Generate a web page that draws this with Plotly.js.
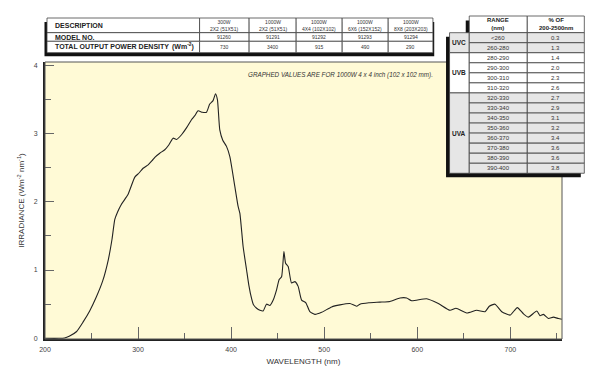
<!DOCTYPE html>
<html><head><meta charset="utf-8">
<script src="https://cdn.plot.ly/plotly-3.0.1.min.js"></script>
<style>html,body{margin:0;padding:0;background:#fff}#c{width:600px;height:382px}</style>
</head><body><div id="c"></div>
<script>
// ---- data ----
const wavelength = [200,215,221,226,234,241,248,255,262,268,272,275,278,282,289,296.5,301,305.4,310.8,315,318,323.3,328.7,333,337.6,341.3,346.7,352,357.4,361,364.5,369,373.5,377,380.6,383.2,385.3,387.8,391,395,398.6,404,407.5,409.4,412.9,416.6,419,422,424,427.4,431,434.4,438,441.6,445.2,448.8,451.6,454.2,456.7,458.5,461.3,464.9,468.5,472,475.7,480.3,484.6,490,497.2,508,516.9,527.6,534.8,538.4,548,559.9,570.6,581.4,588.6,594,610.1,622.6,635.2,641.6,653.1,663.9,672.8,677.4,683.5,690.8,699.7,707.5,714,719.4,728.4,731.9,735.5,740.9,746.2,751.6,755.3];
const irradiance = [0,0,0.005,0.03,0.10,0.24,0.40,0.60,0.84,1.15,1.45,1.74,1.85,1.96,2.10,2.36,2.42,2.49,2.54,2.60,2.65,2.71,2.76,2.83,2.93,2.91,2.98,3.08,3.20,3.26,3.33,3.31,3.31,3.43,3.48,3.58,3.49,3.05,2.90,2.81,2.66,2.22,1.93,1.83,1.34,1.00,0.78,0.58,0.49,0.44,0.41,0.40,0.50,0.48,0.56,0.71,0.86,0.90,1.27,1.10,1.05,0.81,0.83,0.76,0.56,0.52,0.39,0.35,0.38,0.46,0.49,0.51,0.47,0.50,0.52,0.53,0.54,0.59,0.59,0.55,0.58,0.51,0.41,0.44,0.37,0.41,0.39,0.47,0.50,0.39,0.34,0.45,0.36,0.31,0.40,0.33,0.35,0.29,0.31,0.29,0.28];

const descHeaders = ["300W<br>2X2 (51X51)","1000W<br>2X2 (51X51)","1000W<br>4X4 (102X102)","1000W<br>6X6 (152X152)","1000W<br>8X8 (203X203)"];
const modelNos = ["91260","91291","91292","91293","91294"];
const powerDensity = ["730","3400","915","490","290"];
const rowLabels = ["DESCRIPTION","MODEL NO.","TOTAL OUTPUT POWER DENSITY"];

const bandGroups = ["UVC","UVB","UVA"];
const bandGroupSizes = [2,4,8];
const ranges = ["<260","260-280","280-290","290-300","300-310","310-320","320-330","330-340","340-350","350-360","360-370","370-380","380-390","390-400"];
const percents = ["0.3","1.3","1.4","2.0","2.3","2.6","2.7","2.9","3.1","3.2","3.4","3.6","3.6","3.8"];

// ---- geometry helpers (pixel -> paper) ----
const L=45, R=561.7, T=62, B=339;
const px = x => (x-L)/(R-L);
const py = y => (B-y)/(B-T);
const FONT = "Liberation Sans, Arial, Helvetica, sans-serif";
const shapes = [];
const ann = [];
function rect(x0,y0,x1,y1,fill,lc,lw){
  shapes.push({type:'rect',xref:'paper',yref:'paper',x0:px(x0),x1:px(x1),y0:py(y1),y1:py(y0),
    fillcolor:fill,line:{color:lc||fill,width:lw===undefined?0.8:lw},layer:'above'});
}
function text(x,y,t,size,color,opts){
  ann.push(Object.assign({xref:'paper',yref:'paper',x:px(x),y:py(y),text:t,showarrow:false,
    xanchor:'center',yanchor:'middle',font:{family:FONT,size:size,color:color||'#222'}},opts||{}));
}

// plot border (thin)
shapes.push({type:'rect',xref:'paper',yref:'paper',x0:0,x1:1,y0:0,y1:1,line:{color:'#555',width:1},layer:'above'});

// ---- left table ----
rect(44.5,22,434,56.3,'#111','#111',0);
const rowsY=[18,32.7,41.3,52.7];
const colsX=[47,199.5,249,296,342,388,432.7];
for(let r=0;r<3;r++){
  for(let c=0;c<6;c++){
    rect(colsX[c],rowsY[r],colsX[c+1],rowsY[r+1],'#ffffff','#444',0.8);
  }
}
for(let r=0;r<3;r++){
  const cy=(rowsY[r]+rowsY[r+1])/2;
  text(53,cy,"<b>"+rowLabels[r]+"</b>",7,'#222',{xanchor:'left'});
}
text(196,(rowsY[2]+rowsY[3])/2,"<b>(Wm<sup>-2</sup>)</b>",7,'#222',{xanchor:'right'});
for(let c=0;c<5;c++){
  const cx=(colsX[c+1]+colsX[c+2])/2;
  text(cx,(rowsY[0]+rowsY[1])/2+0.5,descHeaders[c],5,'#333');
  text(cx,(rowsY[1]+rowsY[2])/2,modelNos[c],5,'#333');
  text(cx,(rowsY[2]+rowsY[3])/2,powerDensity[c],5,'#333');
}

// ---- right table ----
const tTop=16, hBot=32.7, rowH=10.04;
const gx0=449.3, rx0=469, rx1=527, rx2=584;
const tBot=hBot+rowH*ranges.length;
rect(465.5,20.5,rx2-3.5,hBot+4,'#111','#111',0);
rect(gx0-3.5,hBot+4,rx2-3.5,tBot+4,'#111','#111',0);
rect(rx0,tTop,rx1,hBot,'#ffffff','#444',0.8);
rect(rx1,tTop,rx2,hBot,'#ffffff','#444',0.8);
text((rx0+rx1)/2,(tTop+hBot)/2,"<b>RANGE</b><br><b>(nm)</b>",6,'#222');
text((rx1+rx2)/2,(tTop+hBot)/2,"<b>% OF</b><br><b>200-2500nm</b>",6,'#222');
let ri=0;
for(let g=0;g<bandGroups.length;g++){
  const fill = bandGroups[g]==="UVB" ? '#ffffff' : '#e6e6e6';
  const y0=hBot+ri*rowH, y1=hBot+(ri+bandGroupSizes[g])*rowH;
  rect(gx0,y0,rx0,y1,fill,'#444',0.8);
  text((gx0+rx0)/2,(y0+y1)/2,"<b>"+bandGroups[g]+"</b>",6.5,'#222');
  for(let k=0;k<bandGroupSizes[g];k++){
    const a=hBot+(ri+k)*rowH, b=a+rowH;
    rect(rx0,a,rx1,b,fill,'#444',0.8);
    rect(rx1,a,rx2,b,fill,'#444',0.8);
    text((rx0+rx1)/2,(a+b)/2,ranges[ri+k].replace('<','&lt;'),6,'#333');
    text((rx1+rx2)/2,(a+b)/2,percents[ri+k],6,'#333');
  }
  ri+=bandGroupSizes[g];
}

// note
text(340,75,"<i>GRAPHED VALUES ARE FOR 1000W 4 x 4 inch (102 x 102 mm).</i>",6.3,'#333');

const trace = {x:wavelength,y:irradiance,type:'scatter',mode:'lines',
  line:{color:'#222',width:1.1,shape:'spline',smoothing:0.5},hoverinfo:'skip'};

const layout = {
  width:600,height:382,
  margin:{l:L,r:600-R,t:T,b:382-B,pad:0},
  paper_bgcolor:'#ffffff',plot_bgcolor:'#fffad6',
  showlegend:false,
  font:{family:FONT,size:7,color:'#444'},
  xaxis:{range:[200,755.5],tickvals:[200,300,400,500,600,700],ticks:'inside',ticklen:12,tickwidth:1,tickcolor:'#666',
    minor:{tickvals:[250,350,450,550,650,750],ticks:'inside',ticklen:6,tickwidth:1,tickcolor:'#666',showgrid:false},
    showgrid:false,zeroline:false,showline:true,linecolor:'#222',linewidth:2,
    title:{text:"WAVELENGTH (nm)",font:{family:FONT,size:8,color:'#333'},standoff:6},
    tickfont:{family:FONT,size:7,color:'#444'},ticklabelstandoff:3,fixedrange:true},
  yaxis:{range:[-0.01,4.045],tickvals:[0,1,2,3,4],ticks:'inside',ticklen:9,tickwidth:1,tickcolor:'#666',
    minor:{tickvals:[0.5,1.5,2.5,3.5],ticks:'inside',ticklen:6,tickwidth:1,tickcolor:'#666',showgrid:false},
    showgrid:false,zeroline:false,showline:true,linecolor:'#222',linewidth:2,
    title:{text:"IRRADIANCE (Wm<sup>-2</sup> nm<sup>-1</sup>)",font:{family:FONT,size:8,color:'#333'},standoff:8},
    tickfont:{family:FONT,size:7,color:'#444'},ticklabelstandoff:4,fixedrange:true},
  shapes:shapes,annotations:ann
};
Plotly.newPlot('c',[trace],layout,{displayModeBar:false,staticPlot:true});
</script></body></html>
